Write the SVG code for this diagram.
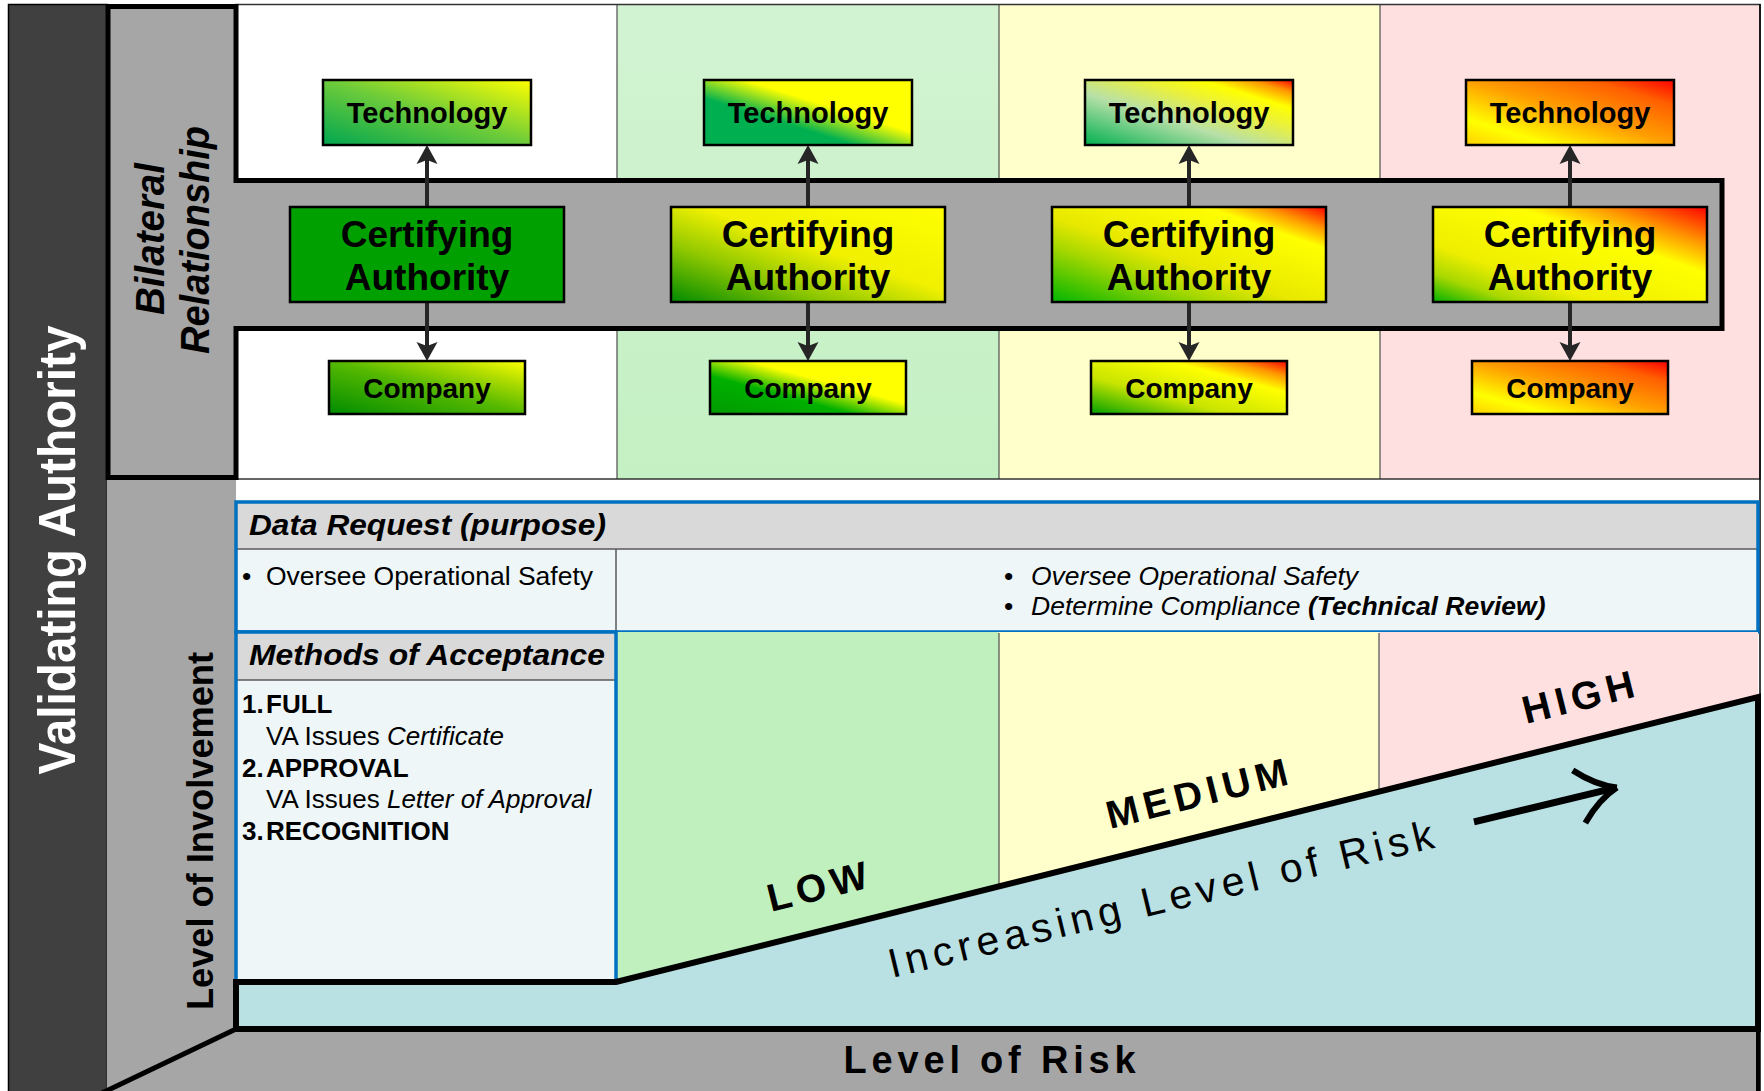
<svg xmlns="http://www.w3.org/2000/svg" width="1764" height="1091" viewBox="0 0 1764 1091">
<style>
text { font-family: "Liberation Sans", Arial, Helvetica, sans-serif; fill: #000; }
.node rect { stroke: #000; stroke-width: 2.5; }
.lbl { font-weight: bold; text-anchor: middle; }
.tech { font-size: 29px; }
.ca { font-size: 37px; }
.co { font-size: 28px; }
.cell { font-size: 26.5px; }
.list { font-size: 26px; }
.hdr { font-size: 30px; font-weight: bold; font-style: italic; }
.risk { font-size: 39px; font-weight: bold; letter-spacing: 5.5px; }
.grid { stroke: #4d4d4d; stroke-width: 1.2; }
.tbl { fill: none; stroke: #0070C0; stroke-width: 3.5; }
.rule { stroke: #595959; stroke-width: 1.5; }
.conn line { stroke: #262626; stroke-width: 4; marker-end: url(#head); }
</style>
<defs>
  <marker id="head" markerUnits="userSpaceOnUse" markerWidth="30" markerHeight="30" viewBox="-15 -15 30 30" refX="0" refY="0" orient="auto">
    <path d="M10,0 L-9,-10.5 L-5,0 L-9,10.5 Z" fill="#262626"/>
  </marker>
  <linearGradient id="col2top" x1="0" y1="0" x2="0" y2="1">
    <stop offset="0" stop-color="#D2F3D2"/>
    <stop offset="1" stop-color="#C4F0C3"/>
  </linearGradient>
  <!-- box fills: diagonal from lower-left to upper-right -->
  <linearGradient id="gT1" x1="0" y1="1" x2="1" y2="0">
    <stop offset="0" stop-color="#00A651"/>
    <stop offset="0.5" stop-color="#6CCB3A"/>
    <stop offset="1" stop-color="#FFFF00"/>
  </linearGradient>
  <linearGradient id="gC1" x1="0" y1="1" x2="1" y2="0">
    <stop offset="0" stop-color="#008C00"/>
    <stop offset="0.5" stop-color="#55B800"/>
    <stop offset="0.8" stop-color="#B8E000"/>
    <stop offset="1" stop-color="#FFFF00"/>
  </linearGradient>
  <linearGradient id="gT2" x1="0" y1="1" x2="1" y2="0">
    <stop offset="0" stop-color="#00B050"/>
    <stop offset="0.36" stop-color="#00B050"/>
    <stop offset="0.6" stop-color="#FFFF00"/>
    <stop offset="1" stop-color="#FFFF00"/>
  </linearGradient>
  <linearGradient id="gA2" x1="0" y1="1" x2="1" y2="0">
    <stop offset="0" stop-color="#008A00"/>
    <stop offset="0.3" stop-color="#90C800"/>
    <stop offset="0.55" stop-color="#F0F000"/>
    <stop offset="1" stop-color="#FFFF00"/>
  </linearGradient>
  <linearGradient id="gC2" x1="0" y1="1" x2="1" y2="0">
    <stop offset="0" stop-color="#009A00"/>
    <stop offset="0.36" stop-color="#00B000"/>
    <stop offset="0.6" stop-color="#FFFF00"/>
    <stop offset="1" stop-color="#FFFF00"/>
  </linearGradient>
  <linearGradient id="gT3" x1="0" y1="1" x2="1" y2="0">
    <stop offset="0" stop-color="#00B050"/>
    <stop offset="0.4" stop-color="#B8E0A8"/>
    <stop offset="0.62" stop-color="#E8F040"/>
    <stop offset="0.78" stop-color="#FFFF00"/>
    <stop offset="0.9" stop-color="#FF9900"/>
    <stop offset="1" stop-color="#FF0000"/>
  </linearGradient>
  <linearGradient id="gA3" x1="0" y1="1" x2="1" y2="0">
    <stop offset="0" stop-color="#00B400"/>
    <stop offset="0.3" stop-color="#A8D800"/>
    <stop offset="0.45" stop-color="#E8E800"/>
    <stop offset="0.78" stop-color="#FFFF00"/>
    <stop offset="0.88" stop-color="#FF9900"/>
    <stop offset="1" stop-color="#FF0000"/>
  </linearGradient>
  <linearGradient id="gC3" x1="0" y1="1" x2="1" y2="0">
    <stop offset="0" stop-color="#00A000"/>
    <stop offset="0.35" stop-color="#C8E400"/>
    <stop offset="0.7" stop-color="#FFFF00"/>
    <stop offset="0.85" stop-color="#FF9900"/>
    <stop offset="1" stop-color="#FF0000"/>
  </linearGradient>
  <linearGradient id="gT4" x1="0" y1="1" x2="1" y2="0">
    <stop offset="0" stop-color="#FFD000"/>
    <stop offset="0.2" stop-color="#FFFF00"/>
    <stop offset="0.5" stop-color="#FFA000"/>
    <stop offset="0.8" stop-color="#FF6000"/>
    <stop offset="1" stop-color="#FF0000"/>
  </linearGradient>
  <linearGradient id="gA4" x1="0" y1="1" x2="1" y2="0">
    <stop offset="0" stop-color="#00B000"/>
    <stop offset="0.15" stop-color="#A8D800"/>
    <stop offset="0.3" stop-color="#EEEE00"/>
    <stop offset="0.65" stop-color="#FFFF00"/>
    <stop offset="0.8" stop-color="#FF9900"/>
    <stop offset="1" stop-color="#FF0000"/>
  </linearGradient>
</defs>

<rect width="1764" height="1091" fill="#FFFFFF"/>

<!-- left wall: validating authority band and involvement band -->
<rect x="8.5" y="4.5" width="99" height="1090" fill="#404040" stroke="#000" stroke-width="1.5"/>
<rect x="107" y="478" width="129" height="613" fill="#A6A6A6"/>

<!-- upper risk columns -->
<g id="upper-columns">
  <rect x="236" y="5" width="381" height="474" fill="#FFFFFF"/>
  <rect x="617" y="5" width="382" height="474" fill="url(#col2top)"/>
  <rect x="999" y="5" width="381" height="474" fill="#FFFFCC"/>
  <rect x="1380" y="5" width="380" height="474" fill="#FFE0E0"/>
  <line class="grid" x1="617" y1="5" x2="617" y2="479"/>
  <line class="grid" x1="999" y1="5" x2="999" y2="479"/>
  <line class="grid" x1="1380" y1="5" x2="1380" y2="479"/>
  <rect x="236" y="4.5" width="1524" height="474.5" fill="none" stroke="#333" stroke-width="1.5"/>
</g>
<line x1="1760" y1="4" x2="1760" y2="1091" stroke="#000" stroke-width="1.5"/>

<!-- bilateral relationship band -->
<path id="bilateral" d="M108,6.5 H236 V180.5 H1722 V328.5 H236 V477.5 H108 Z" fill="#A6A6A6" stroke="#000" stroke-width="5"/>

<!-- data request table -->
<g id="data-request">
  <rect x="236" y="502" width="1522" height="47" fill="#D9D9D9"/>
  <rect x="236" y="549" width="1522" height="83" fill="#EEF6F8"/>
  <line class="rule" x1="236" y1="549" x2="1758" y2="549"/>
  <line class="rule" x1="616" y1="549" x2="616" y2="632"/>
  <rect class="tbl" x="236" y="502" width="1522" height="130"/>
  <text class="hdr" x="249" y="535" textLength="357" lengthAdjust="spacingAndGlyphs">Data Request (purpose)</text>
  <text class="cell" x="242" y="585">•</text>
  <text class="cell" x="266" y="585">Oversee Operational Safety</text>
  <text class="cell" x="1004" y="585">•</text>
  <text class="cell" x="1031" y="585" font-style="italic">Oversee Operational Safety</text>
  <text class="cell" x="1004" y="615">•</text>
  <text class="cell" x="1031" y="615" font-style="italic">Determine Compliance <tspan font-weight="bold">(Technical Review)</tspan></text>
</g>

<!-- lower risk columns -->
<g id="lower-columns">
  <rect x="616" y="632" width="383" height="360" fill="#C0F0BE"/>
  <rect x="999" y="632" width="380" height="360" fill="#FFFFCC"/>
  <rect x="1379" y="632" width="379" height="360" fill="#FFE0E0"/>
  <line class="grid" x1="999" y1="633" x2="999" y2="990"/>
  <line class="grid" x1="1379" y1="633" x2="1379" y2="990"/>
</g>

<!-- methods of acceptance -->
<g id="methods">
  <rect x="236" y="632" width="380" height="48" fill="#D9D9D9"/>
  <rect x="236" y="680" width="380" height="302" fill="#EEF6F8"/>
  <line class="rule" x1="236" y1="680" x2="616" y2="680"/>
  <rect class="tbl" x="236" y="632" width="380" height="350"/>
  <text class="hdr" x="249" y="665" textLength="356" lengthAdjust="spacingAndGlyphs">Methods of Acceptance</text>
  <text class="list" font-weight="bold" y="713"><tspan x="242">1.</tspan><tspan x="266">FULL</tspan></text>
  <text class="list" x="266" y="745">VA Issues <tspan font-style="italic">Certificate</tspan></text>
  <text class="list" font-weight="bold" y="777"><tspan x="242">2.</tspan><tspan x="266">APPROVAL</tspan></text>
  <text class="list" x="266" y="808">VA Issues <tspan font-style="italic">Letter of Approval</tspan></text>
  <text class="list" font-weight="bold" y="840"><tspan x="242">3.</tspan><tspan x="266">RECOGNITION</tspan></text>
</g>

<!-- involvement ramp and floor -->
<path id="ramp" d="M236,982 H616 L1758,697 V1029 H236 Z" fill="#B9E0E3" stroke="#000" stroke-width="6"/>
<path id="floor" d="M104,1091 L236,1029 H1758 V1091 Z" fill="#A6A6A6"/>
<line x1="236" y1="1029" x2="102" y2="1093" stroke="#000" stroke-width="5"/>
<line x1="236" y1="1029" x2="1758" y2="1029" stroke="#000" stroke-width="6"/>
<line x1="1758" y1="1029" x2="1758" y2="1091" stroke="#000" stroke-width="4"/>

<!-- axis and side labels -->
<text transform="translate(75,550) rotate(-90)" text-anchor="middle" font-size="52" font-weight="bold" style="fill:#FFFFFF" textLength="449" lengthAdjust="spacingAndGlyphs">Validating Authority</text>
<text transform="translate(213,831) rotate(-90)" text-anchor="middle" font-size="37" font-weight="bold" textLength="358" lengthAdjust="spacingAndGlyphs">Level of Involvement</text>
<text transform="translate(164,239) rotate(-90)" text-anchor="middle" font-size="40" font-weight="bold" font-style="italic" textLength="152" lengthAdjust="spacingAndGlyphs">Bilateral</text>
<text transform="translate(209,240) rotate(-90)" text-anchor="middle" font-size="40" font-weight="bold" font-style="italic" textLength="228" lengthAdjust="spacingAndGlyphs">Relationship</text>
<text x="992" y="1073" text-anchor="middle" font-size="38" font-weight="bold" letter-spacing="4.8">Level of Risk</text>

<!-- risk labels along the ramp -->
<text class="risk" transform="translate(771,912) rotate(-14)">LOW</text>
<text class="risk" transform="translate(1110,829) rotate(-14)">MEDIUM</text>
<text class="risk" transform="translate(1526,724) rotate(-14)">HIGH</text>
<text transform="translate(892,978) rotate(-13.5)" font-size="41" letter-spacing="5.4">Increasing Level of Risk</text>
<g id="risk-arrow" transform="translate(1615,788) rotate(-13.5)" fill="none" stroke="#000">
  <line x1="-145" y1="0" x2="-3" y2="0" stroke-width="7"/>
  <path d="M-37,-27 Q-18,-7 2,0" stroke-width="6"/>
  <path d="M-37,27 Q-18,7 2,0" stroke-width="6"/>
</g>

<!-- connectors -->
<g id="connectors" class="conn">
  <line x1="427" y1="207" x2="427" y2="155"/>
  <line x1="427" y1="302" x2="427" y2="351"/>
  <line x1="808" y1="207" x2="808" y2="155"/>
  <line x1="808" y1="302" x2="808" y2="351"/>
  <line x1="1189" y1="207" x2="1189" y2="155"/>
  <line x1="1189" y1="302" x2="1189" y2="351"/>
  <line x1="1570" y1="207" x2="1570" y2="155"/>
  <line x1="1570" y1="302" x2="1570" y2="351"/>
</g>

<!-- column 1 -->
<g id="tech-1" class="node"><rect x="323" y="80" width="208" height="65" fill="url(#gT1)"/><text class="lbl tech" x="427" y="123">Technology</text></g>
<g id="ca-1" class="node"><rect x="290" y="207" width="274" height="95" fill="#00A000"/><text class="lbl ca" x="427" y="247">Certifying</text><text class="lbl ca" x="427" y="290">Authority</text></g>
<g id="company-1" class="node"><rect x="329" y="361" width="196" height="53" fill="url(#gC1)"/><text class="lbl co" x="427" y="398">Company</text></g>

<!-- column 2 -->
<g id="tech-2" class="node"><rect x="704" y="80" width="208" height="65" fill="url(#gT2)"/><text class="lbl tech" x="808" y="123">Technology</text></g>
<g id="ca-2" class="node"><rect x="671" y="207" width="274" height="95" fill="url(#gA2)"/><text class="lbl ca" x="808" y="247">Certifying</text><text class="lbl ca" x="808" y="290">Authority</text></g>
<g id="company-2" class="node"><rect x="710" y="361" width="196" height="53" fill="url(#gC2)"/><text class="lbl co" x="808" y="398">Company</text></g>

<!-- column 3 -->
<g id="tech-3" class="node"><rect x="1085" y="80" width="208" height="65" fill="url(#gT3)"/><text class="lbl tech" x="1189" y="123">Technology</text></g>
<g id="ca-3" class="node"><rect x="1052" y="207" width="274" height="95" fill="url(#gA3)"/><text class="lbl ca" x="1189" y="247">Certifying</text><text class="lbl ca" x="1189" y="290">Authority</text></g>
<g id="company-3" class="node"><rect x="1091" y="361" width="196" height="53" fill="url(#gC3)"/><text class="lbl co" x="1189" y="398">Company</text></g>

<!-- column 4 -->
<g id="tech-4" class="node"><rect x="1466" y="80" width="208" height="65" fill="url(#gT4)"/><text class="lbl tech" x="1570" y="123">Technology</text></g>
<g id="ca-4" class="node"><rect x="1433" y="207" width="274" height="95" fill="url(#gA4)"/><text class="lbl ca" x="1570" y="247">Certifying</text><text class="lbl ca" x="1570" y="290">Authority</text></g>
<g id="company-4" class="node"><rect x="1472" y="361" width="196" height="53" fill="url(#gT4)"/><text class="lbl co" x="1570" y="398">Company</text></g>
</svg>
